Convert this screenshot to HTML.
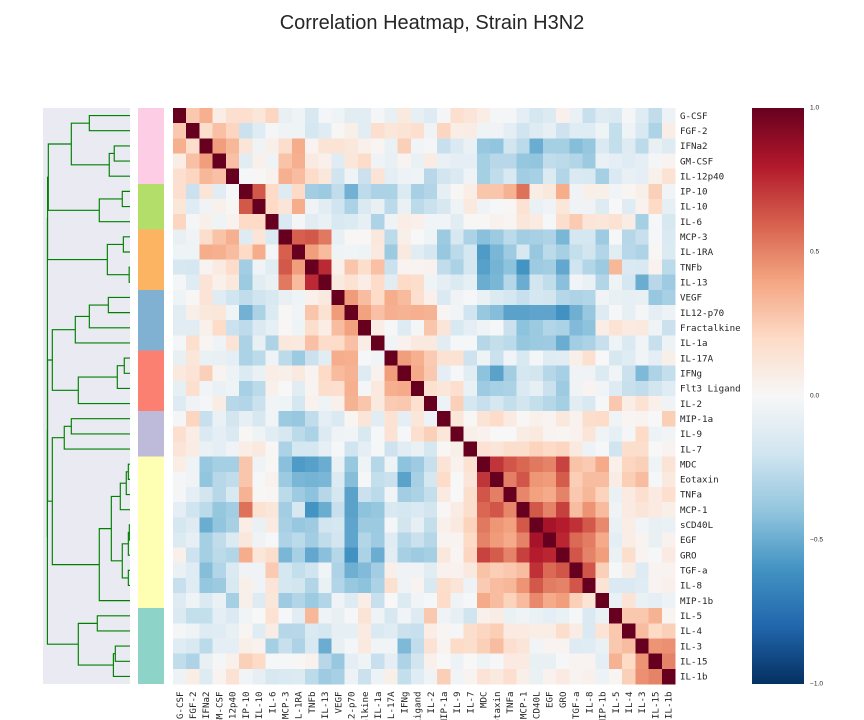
<!DOCTYPE html>
<html lang="en">
<head>
<meta charset="utf-8">
<title>Correlation Heatmap, Strain H3N2</title>
<style>
html,body{margin:0;padding:0;background:#fff;width:864px;height:720px;overflow:hidden}
svg{display:block}
.tick{font-family:"DejaVu Sans Mono","Liberation Mono",monospace;font-size:9.17px;fill:#262626}
.cbt{font-family:"Liberation Sans",sans-serif;font-size:6.6px;fill:#262626}
.title{font-family:"Liberation Sans",sans-serif;font-size:20px;fill:#262626}
</style>
</head>
<body>
<svg id="chart" xmlns="http://www.w3.org/2000/svg" width="864" height="720" viewBox="0 0 864 720">
  <defs>
    <linearGradient id="rdbu" x1="0" y1="0" x2="0" y2="1">
      <stop offset="0" stop-color="#67001f"/><stop offset="0.1" stop-color="#b2182b"/>
      <stop offset="0.2" stop-color="#d6604d"/><stop offset="0.3" stop-color="#f4a582"/>
      <stop offset="0.4" stop-color="#fddbc7"/><stop offset="0.5" stop-color="#f7f7f7"/>
      <stop offset="0.6" stop-color="#d1e5f0"/><stop offset="0.7" stop-color="#92c5de"/>
      <stop offset="0.8" stop-color="#4393c3"/><stop offset="0.9" stop-color="#2166ac"/>
      <stop offset="1" stop-color="#053061"/>
    </linearGradient>
  </defs>
  <text class="title" x="432" y="29" text-anchor="middle">Correlation Heatmap, Strain H3N2</text>
  <rect x="43" y="108" width="87" height="576" fill="#eaeaf2"/>
  <g id="dendrogram"></g>
  <g id="rowColors"></g>
  <g id="cells"></g>
  <g id="rowLabels"></g>
  <g id="colLabels"></g>
  <rect x="752" y="108" width="52" height="576" fill="url(#rdbu)"/>
  <g id="colorbarTicks"></g>
</svg>
<script>
const cytokines = ["G-CSF","FGF-2","IFNa2","GM-CSF","IL-12p40","IP-10","IL-10","IL-6","MCP-3","IL-1RA","TNFb","IL-13","VEGF","IL12-p70","Fractalkine","IL-1a","IL-17A","IFNg","Flt3 Ligand","IL-2","MIP-1a","IL-9","IL-7","MDC","Eotaxin","TNFa","MCP-1","sCD40L","EGF","GRO","TGF-a","IL-8","MIP-1b","IL-5","IL-4","IL-3","IL-15","IL-1b"];

// Upper triangle of the correlation matrix, in hundredths; row i holds columns i+1 to the end.
const correlationUpper = [
[27,36,7,17,17,12,22,-8,-5,-17,-2,-5,-11,-11,-2,-8,10,-9,-13,-2,17,13,7,-2,-2,-10,-18,-14,5,-7,-23,-13,-15,-2,-12,-25,-6],
[18,30,22,-22,-12,-2,-4,-5,-18,-12,1,6,-11,17,12,14,17,-4,22,7,8,-5,-4,-10,-20,-13,-9,-21,-12,-12,-5,-24,-5,-16,-31,7],
[42,33,13,-4,6,18,37,3,14,14,11,5,2,-7,24,-3,-2,-23,-15,-7,-38,-40,-19,-27,-50,-34,-34,-43,-39,-15,-24,-13,-27,-8,-13],
[30,-11,5,-5,29,36,9,5,-12,12,19,-4,-8,3,-7,8,-7,-10,-10,-34,-28,-28,-39,-40,-25,-27,-30,-37,-7,-10,-12,-10,-2,3],
[-1,1,4,36,31,19,11,-20,-5,-22,14,-10,-6,-5,-28,-19,-15,-4,-34,-25,-16,-35,-33,-14,-30,-15,-16,-34,-15,-8,-10,5,15],
[62,20,-13,20,-35,-37,-25,-48,-26,-32,-32,-14,-33,-30,-9,1,7,28,28,35,55,7,11,37,-4,6,6,-3,2,6,24,-3],
[20,13,37,-4,-11,-20,-32,-15,-8,-27,-7,-27,-22,-17,-5,10,-4,-1,1,15,-7,-4,12,-4,-4,-13,0,-12,4,20,-9],
[-15,-2,-11,-7,-16,-14,-9,-31,-4,7,5,-3,-3,-11,1,1,4,2,12,9,-1,18,26,13,12,15,8,-34,-1,-17],
[60,62,53,-8,1,1,11,-27,6,0,-5,-37,-17,-32,-42,-37,-27,-35,-33,-31,-46,-18,-18,-36,-1,-29,-23,-1,-15],
[42,32,-5,-3,-5,10,-37,10,-11,-18,-38,-27,-18,-57,-46,-36,-17,-38,-27,-33,-24,-19,-30,-11,-28,-31,1,-14],
[75,5,28,18,30,-22,3,3,4,-25,-32,-18,-55,-47,-41,-60,-36,-35,-52,-20,-30,-37,33,-15,-16,4,-27],
[10,15,7,19,-11,20,18,-5,-10,-14,-9,-50,-46,-29,-50,-19,-25,-42,-3,-7,-30,-5,-18,-50,-28,-36],
[43,31,19,37,32,17,5,-15,-4,-1,-7,-14,-18,-23,-18,-19,-29,-31,-30,-4,-8,-9,-8,-38,-33],
[41,30,36,35,36,35,2,-3,-20,-38,-43,-54,-54,-53,-53,-61,-49,-38,-13,-1,-9,-2,-10,-6],
[7,-1,-13,-2,28,13,-16,-10,-5,-1,-22,-41,-37,-30,-32,-44,-41,7,14,9,10,-4,-22],
[-3,4,10,10,-11,-1,-1,-29,-24,-27,-39,-37,-36,-50,-35,-32,-23,-5,-15,-3,-23,-6],
[42,36,26,15,15,-21,-5,-22,-3,-16,-2,-12,-11,6,16,0,-17,-12,-3,-10,6],
[38,27,-10,-1,-11,-41,-54,-35,-18,-19,-29,-33,-4,-4,-14,-3,-22,-45,-31,-24],
[16,12,17,-7,-36,-33,-32,-15,-9,-22,-36,-4,3,-3,-13,-23,-25,-19,-12],
[-6,24,-18,-23,-18,-24,-19,-24,-29,-34,-11,-16,-1,27,7,15,5,-4],
[12,1,14,19,9,1,5,3,11,4,18,19,-4,2,3,0,25],
[6,4,0,0,8,10,3,2,4,13,-4,-9,-2,20,-6,-3],
[15,13,18,18,23,20,22,10,-6,-1,-20,18,18,0,3],
[72,63,58,53,50,68,29,26,38,5,22,24,-5,14],
[51,63,44,43,61,25,31,31,8,25,31,-1,10],
[49,41,38,50,27,33,23,-7,9,17,9,17],
[62,50,69,31,45,32,-4,9,13,9,6],
[83,79,73,62,48,-7,7,-3,-8,-7],
[76,57,52,38,-10,7,3,-8,4],
[63,50,42,-7,18,3,-1,9],
[63,24,-1,8,-13,3,3],
[14,-15,-15,-12,3,5],
[-7,14,-7,-10,-6],
[27,27,35,2],
[31,20,24],
[45,46],
[50]
];

// Cluster sizes and Set3 colours for the row-colour strip.
const clusterSizes = [5,3,4,4,4,3,10,5];
const clusterColors = ["#fccde5","#b3de69","#fdb462","#80b1d3","#fb8072","#bebada","#ffffb3","#8dd3c7"];

// Linkage: [childA, childB, distance]; ids below 38 are leaves, 38+k is merge k.
const linkage = [
[0,1,.49],[2,3,.19],[39,4,.25],[38,40,.707],[5,6,.093],[42,7,.37],[41,43,.984],
[8,9,.08],[10,11,.01],[45,46,.273],[44,47,.993],
[12,13,.261],[49,14,.49],[50,15,.659],[16,17,.069],[52,18,.153],[53,19,.623],[51,54,.936],
[20,21,.707],[56,22,.792],
[23,24,.02],[58,25,.045],[59,26,.117],[27,28,.008],[61,29,.02],[30,31,.02],[62,63,.093],[60,64,.225],[65,32,.37],
[57,66,.936],[55,67,.993],
[33,34,.394],[35,36,.177],[70,37,.2],[69,71,.623],[68,72,.995],[48,73,.995]
];

const colorbarTicks = [1,0.5,0,-0.5,-1];

const SVGNS = "http://www.w3.org/2000/svg";
const stops = ["#053061","#2166ac","#4393c3","#92c5de","#d1e5f0","#f7f7f7","#fddbc7","#f4a582","#d6604d","#b2182b","#67001f"];
const N = cytokines.length;
const plot = {x:173, y:108, w:502, h:576};
const colX = i => plot.x + i * plot.w / N;
const rowY = i => plot.y + i * plot.h / N;
const distX = d => 130 - d * 83;
const cbY = v => 108 + (1 - v) / 2 * 576;

function hexRgb(h){return [1,3,5].map(i=>parseInt(h.substr(i,2),16));}
function colorFor(v){
  const t = (Math.max(-1,Math.min(1,v)) + 1) / 2 * 10;
  const i = Math.min(9, Math.floor(t));
  const f = t - i;
  const a = hexRgb(stops[i]), b = hexRgb(stops[i+1]);
  return "rgb(" + a.map((c,k)=>Math.round(c+(b[k]-c)*f)).join(",") + ")";
}
function valueAt(r,c){
  if(r===c) return 1;
  const a = Math.min(r,c), b = Math.max(r,c);
  return correlationUpper[a][b-a-1] / 100;
}
function mk(tag, attrs, parent){
  const el = document.createElementNS(SVGNS, tag);
  for(const k in attrs) el.setAttribute(k, attrs[k]);
  parent.appendChild(el);
  return el;
}

// Heatmap cells
const cellsG = document.getElementById("cells");
for(let r=0;r<N;r++){
  for(let c=0;c<N;c++){
    const cell = mk("rect",{x:colX(c),y:rowY(r),width:plot.w/N+0.3,height:plot.h/N+0.3,fill:colorFor(valueAt(r,c)),"shape-rendering":"crispEdges"},cellsG);
    
    
  }
}

// Axis labels
const rowG = document.getElementById("rowLabels");
const colG = document.getElementById("colLabels");
cytokines.forEach((name,i)=>{
  const rl = mk("text",{class:"tick",x:680,y:rowY(i)+plot.h/N/2+3.2},rowG);
  rl.textContent = name;
  
  
  const cx = colX(i)+plot.w/N/2+3.2;
  const cl = mk("text",{class:"tick","text-anchor":"end",transform:"translate("+cx+",691.5) rotate(-90)"},colG);
  cl.textContent = name;
  
  
});

// Row colours
const rcG = document.getElementById("rowColors");
let start = 0;
clusterSizes.forEach((size,i)=>{
  const strip = mk("rect",{x:138,y:rowY(start),width:26,height:plot.h/N*size,fill:clusterColors[i],"shape-rendering":"crispEdges"},rcG);
  
  
  start += size;
});

// Dendrogram
const dG = document.getElementById("dendrogram");
const nodes = [];
for(let i=0;i<N;i++) nodes.push({y:rowY(i)+plot.h/N/2,d:0});
linkage.forEach(m=>{
  const a = nodes[m[0]], b = nodes[m[1]];
  const x = distX(m[2]);
  const path = mk("path",{d:"M"+distX(a.d)+" "+a.y+"H"+x+"V"+b.y+"H"+distX(b.d),fill:"none",stroke:"#008000","stroke-width":1.15},dG);
  
  
  nodes.push({y:(a.y+b.y)/2,d:m[2]});
});

// Colorbar ticks
const cbG = document.getElementById("colorbarTicks");
colorbarTicks.forEach(v=>{
  const t = mk("text",{class:"cbt",x:810,y:cbY(v)+1.5},cbG);
  t.textContent = (v<0?"\u2212":"") + Math.abs(v).toFixed(1);
  
  
});
</script>
</body>
</html>
